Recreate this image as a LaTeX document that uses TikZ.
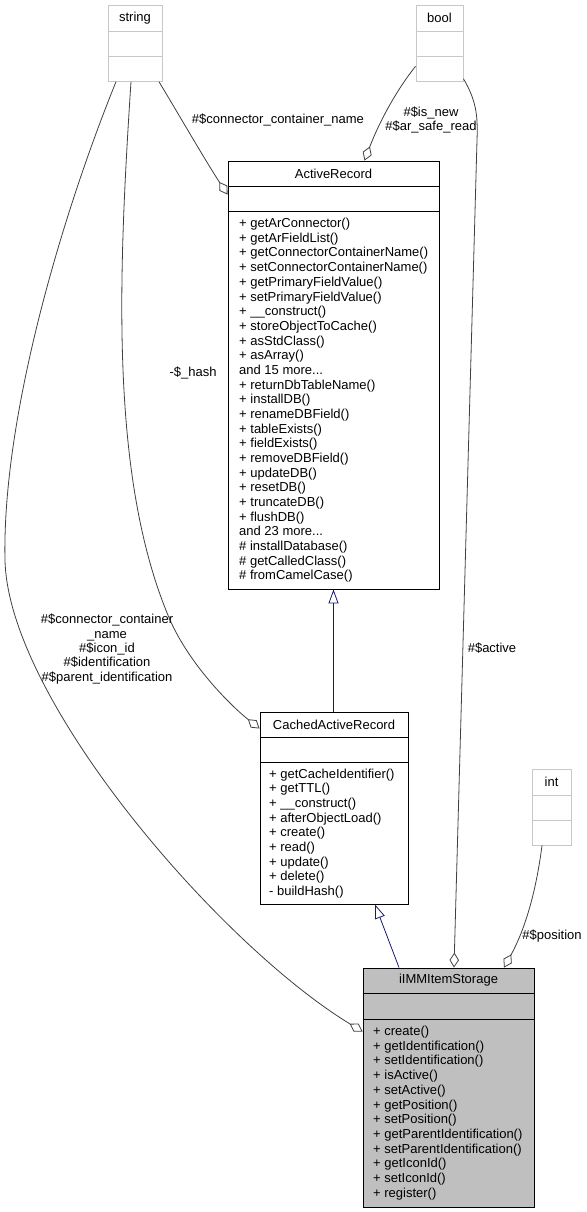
\documentclass[tikz,border=0pt]{standalone}
\usepackage{fontspec}
\setmainfont{Liberation Sans}
\usetikzlibrary{arrows.meta}

\definecolor{linegray}{HTML}{404040}
\definecolor{basegray}{HTML}{BFBFBF}
\definecolor{extgray}{HTML}{C8C8C8}
\definecolor{inheritblue}{HTML}{191970}

\tikzset{
  classbox/.style={draw=black, line width=0.9pt, inner sep=0pt, fill=white},
  typebox/.style={draw=extgray, line width=0.9pt, inner sep=0pt, fill=white},
  txt/.style={inner sep=0pt, font=\fontsize{13}{14.68}\selectfont},
  members/.style={txt, align=left, anchor=north west},
  edgelabel/.style={txt, align=center, font=\fontsize{13}{14.3}\selectfont},
  assoc/.style={draw=linegray, line width=0.8pt, -{Diamond[open, length=15pt, width=9.5pt]}},
  inherit/.style={draw=inheritblue, line width=0.8pt, -{Triangle[open, length=14pt, width=10pt]}},
}

\begin{document}
\begin{tikzpicture}[x=1pt, y=-1pt]
  \useasboundingbox (0,0) rectangle (586,1212);

  % string, bool, int
  \node[typebox, minimum width=54pt, minimum height=76pt] (str) at (135,43.3) {};
  \node[txt] (str-title) at (135,18.3) {string};
  \draw[extgray, line width=0.9pt] (str.west |- 0,31.3) -- (str.east |- 0,31.3);
  \draw[extgray, line width=0.9pt] (str.west |- 0,56.7) -- (str.east |- 0,56.7);

  \node[typebox, minimum width=47pt, minimum height=76pt] (bool) at (439.5,43.3) {};
  \node[txt] (bool-title) at (439.5,18.3) {bool};
  \draw[extgray, line width=0.9pt] (bool.west |- 0,31.3) -- (bool.east |- 0,31.3);
  \draw[extgray, line width=0.9pt] (bool.west |- 0,56.7) -- (bool.east |- 0,56.7);

  \node[typebox, minimum width=39pt, minimum height=76pt] (int) at (551.5,807) {};
  \node[txt] (int-title) at (551.5,782) {int};
  \draw[extgray, line width=0.9pt] (int.west |- 0,795) -- (int.east |- 0,795);
  \draw[extgray, line width=0.9pt] (int.west |- 0,820) -- (int.east |- 0,820);

  % ActiveRecord
  \node[classbox, minimum width=211pt, minimum height=428pt] (ar) at (333.5,375) {};
  \node[txt] (ar-title) at (333.5,173.5) {ActiveRecord};
  \draw[line width=0.9pt] (ar.west |- 0,186) -- (ar.east |- 0,186);
  \draw[line width=0.9pt] (ar.west |- 0,211) -- (ar.east |- 0,211);
  \node[members] (ar-ops) at (239,218) {+ getArConnector()\\+ getArFieldList()\\
    + getConnectorContainerName()\\+ setConnectorContainerName()\\
    + getPrimaryFieldValue()\\+ setPrimaryFieldValue()\\+ \_\_construct()\\
    + storeObjectToCache()\\+ asStdClass()\\+ asArray()\\and 15 more...\\
    + returnDbTableName()\\+ installDB()\\+ renameDBField()\\+ tableExists()\\
    + fieldExists()\\+ removeDBField()\\+ updateDB()\\+ resetDB()\\
    + truncateDB()\\+ flushDB()\\and 23 more...\\\# installDatabase()\\
    \# getCalledClass()\\\# fromCamelCase()};

  % CachedActiveRecord
  \node[classbox, minimum width=148pt, minimum height=192pt] (cached) at (334,808) {};
  \node[txt] (cached-title) at (334,724.5) {CachedActiveRecord};
  \draw[line width=0.9pt] (cached.west |- 0,737) -- (cached.east |- 0,737);
  \draw[line width=0.9pt] (cached.west |- 0,762) -- (cached.east |- 0,762);
  \node[members] (cached-ops) at (269,768.5) {+ getCacheIdentifier()\\+ getTTL()\\
    + \_\_construct()\\+ afterObjectLoad()\\+ create()\\+ read()\\+ update()\\
    + delete()\\- buildHash()};

  % iIMMItemStorage
  \node[classbox, fill=basegray, minimum width=171pt, minimum height=239pt] (item) at (448.5,1087.5) {};
  \node[txt] (item-title) at (448.5,980.5) {iIMMItemStorage};
  \draw[line width=0.9pt] (item.west |- 0,993) -- (item.east |- 0,993);
  \draw[line width=0.9pt] (item.west |- 0,1019) -- (item.east |- 0,1019);
  \node[members] (item-ops) at (373,1026) {+ create()\\+ getIdentification()\\
    + setIdentification()\\+ isActive()\\+ setActive()\\+ getPosition()\\
    + setPosition()\\+ getParentIdentification()\\+ setParentIdentification()\\
    + getIconId()\\+ setIconId()\\+ register()};

  % inheritance
  \draw[inherit] (ar.south |- cached.north) -- (ar.south);
  \draw[inherit] ([xshift=-49.5pt]item.north) -- ([xshift=41pt]cached.south);

  % members
  \draw[assoc] ([xshift=24pt]str.south) .. controls (185,125) and (205,160) .. ([yshift=-34pt]ar.north west);
  \draw[assoc] ([xshift=-4pt]str.south) .. controls (118,280) and (110,480) .. (170,620)
    .. controls (190,665) and (230,705) .. ([yshift=-17pt]cached.north west);
  \draw[assoc] ([xshift=-19pt]str.south) .. controls (60,220) and (2,420) .. (5,560)
    .. controls (8,700) and (220,945) .. ([yshift=-64pt]item.north west);
  \draw[assoc] ([yshift=-23pt]bool.west) .. controls (398,88) and (380,120) .. ([xshift=31pt]ar.north);
  \draw[assoc] ([yshift=3pt]bool.south east) .. controls (476,100) and (478,115) .. (477,140)
    -- ([xshift=5.5pt]item.north);
  \draw[assoc] ([xshift=-9.5pt]int.south) .. controls (535,900) and (522,935) .. ([xshift=55.5pt]item.north);

  % labels
  \node[edgelabel] (lab-ccn) at (278,120) {\#\$connector\_container\_name};
  \node[edgelabel] (lab-new) at (431,120) {\#\$is\_new\\\#\$ar\_safe\_read};
  \node[edgelabel] (lab-hash) at (193,373) {-\$\_hash};
  \node[edgelabel] (lab-ids) at (107,649) {\#\$connector\_container\\\_name\\\#\$icon\_id\\
    \#\$identification\\\#\$parent\_identification};
  \node[edgelabel] (lab-active) at (492,648) {\#\$active};
  \node[edgelabel] (lab-pos) at (552,936) {\#\$position};
\end{tikzpicture}
\end{document}
